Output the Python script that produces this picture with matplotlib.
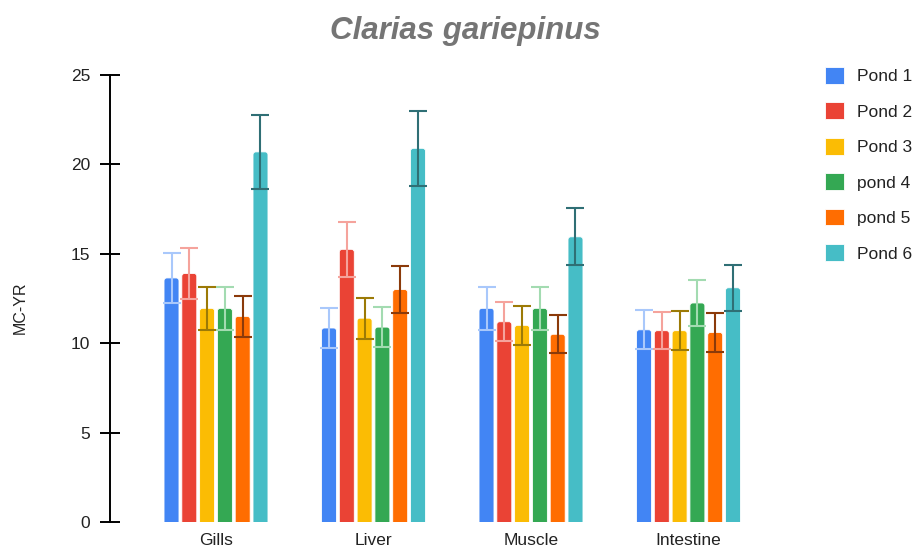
import numpy as np
import matplotlib
matplotlib.use("Agg")
import matplotlib.pyplot as plt
from matplotlib.patches import FancyBboxPatch, Patch

plt.rcParams['font.family'] = ['Liberation Sans', 'DejaVu Sans']

# Data
tissues = ["Gills", "Liver", "Muscle", "Intestine"]
ponds = ["Pond 1", "Pond 2", "Pond 3", "pond 4", "pond 5", "Pond 6"]
pond1 = [13.65, 10.85, 11.95, 10.75]
pond2 = [13.9, 15.25, 11.2, 10.7]
pond3 = [11.95, 11.4, 11.0, 10.7]
pond4 = [11.95, 10.9, 11.95, 12.25]
pond5 = [11.5, 13.0, 10.5, 10.6]
pond6 = [20.7, 20.9, 15.95, 13.1]
err1 = [1.4, 1.1, 1.2, 1.1]
err2 = [1.4, 1.55, 1.1, 1.05]
err3 = [1.2, 1.15, 1.1, 1.1]
err4 = [1.2, 1.1, 1.2, 1.3]
err5 = [1.15, 1.3, 1.05, 1.1]
err6 = [2.05, 2.1, 1.6, 1.3]
yticks = [0, 5, 10, 15, 20, 25]

values = [pond1, pond2, pond3, pond4, pond5, pond6]
errors = [err1, err2, err3, err4, err5, err6]
bar_colors = ["#4285F4", "#EA4335", "#FBBC04", "#34A853", "#FF6D01", "#46BDC6"]
err_colors = ["#A9C8FB", "#F5A39C", "#9C7A06", "#A3DBB1", "#8B3A0A", "#2F6F75"]

W, H = 921, 550
fig = plt.figure(figsize=(W / 100, H / 100), dpi=100)

# axes placed in pixel terms
left_px, right_px, top_px, bottom_px = 110, 790, 75, 522
ax = fig.add_axes([left_px / W, (H - bottom_px) / H,
                   (right_px - left_px) / W, (bottom_px - top_px) / H])

group_step_px = 157.5
x0_px = 216
ax.set_xlim((left_px - x0_px) / group_step_px, (right_px - x0_px) / group_step_px)
ax.set_ylim(0, 25)

x = np.arange(len(tissues))
step = 0.113
width = 0.095
offsets = (np.arange(len(ponds)) - (len(ponds) - 1) / 2) * step

# aspect between y data units and x data units per pixel
x_per_px = 1 / group_step_px
y_per_px = 25 / (bottom_px - top_px)
aspect = y_per_px / x_per_px

for i in range(len(ponds)):
    xs = x + offsets[i]
    for xi, v in zip(xs, values[i]):
        p = FancyBboxPatch((xi - width / 2, -2), width, v + 2,
                           boxstyle="round,pad=0,rounding_size=0.018",
                           mutation_aspect=aspect,
                           facecolor=bar_colors[i], edgecolor="white",
                           linewidth=0.6, clip_on=True, zorder=2)
        ax.add_patch(p)
    ax.errorbar(xs, values[i], yerr=errors[i], fmt="none",
                ecolor=err_colors[i], elinewidth=1.5, capsize=6.8,
                capthick=1.5, zorder=3)

ax.set_yticks(yticks)
ax.set_xticks(x)
ax.set_xticklabels(tissues, fontsize=12.5, color="#222222")
for s in ["top", "right", "bottom"]:
    ax.spines[s].set_visible(False)
ax.spines["left"].set_linewidth(1.4)
ax.tick_params(axis="y", direction="inout", length=14.4, width=1.4,
               pad=7, labelsize=12.5, labelcolor="#222222")
ax.tick_params(axis="x", length=0, pad=8)

fig.text(20 / W, 1 - 308 / H, "MC-YR", rotation=90, ha="center", va="center",
         fontsize=11.5, color="#222222")
fig.text(465 / W, 1 - 31 / H, "Clarias gariepinus", ha="center", va="center",
         fontsize=22.5, fontweight="bold", fontstyle="italic", color="#757575")

handles = [Patch(facecolor=c, edgecolor="white", linewidth=0.6) for c in bar_colors]
leg = fig.legend(handles, ponds, loc="upper left",
                 bbox_to_anchor=(818 / W, 1 - 60 / H), frameon=False,
                 fontsize=12.5, handlelength=1.1, handleheight=1.1,
                 handletextpad=0.75, labelspacing=1.05, borderaxespad=0)
for t in leg.get_texts():
    t.set_color("#222222")

fig.savefig("out.png", dpi=100, facecolor="white")
